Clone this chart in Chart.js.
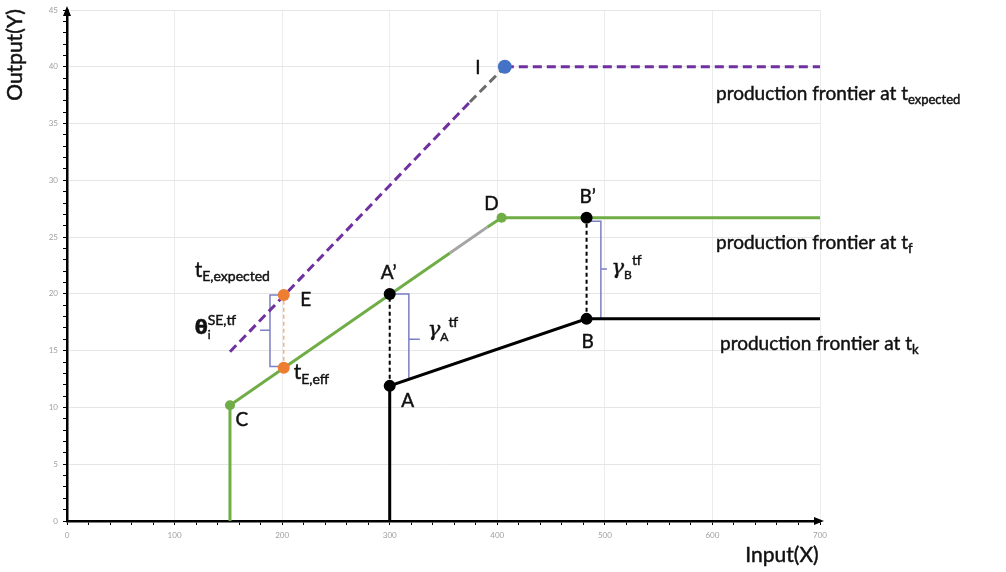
<!DOCTYPE html>
<html><head><meta charset="utf-8">
<script src="https://cdn.jsdelivr.net/npm/chart.js@4/dist/chart.umd.min.js"></script>
<style>html,body{margin:0;padding:0;background:#fff}#wrap{width:1006px;height:572px;position:relative}</style>
</head><body><div id="wrap"><canvas id="c"></canvas></div>
<script>
// ---------- data ----------
const xTickLabels = [0, 100, 200, 300, 400, 500, 600, 700];
const yTickLabels = [0, 5, 10, 15, 20, 25, 30, 35, 40, 45];

// production frontier at t_k (black)
const tkX = [300, 300, 483, 700];
const tkY = [0, 11.9, 17.8, 17.8];
// production frontier at t_f (green); the 3rd segment is drawn grey-tinted
const tfX = [151.5, 151.5, 356, 391, 404, 700];
const tfY = [0, 10.2, 23.6, 25.9, 26.7, 26.7];
const tfGraySeg = 2;
// production frontier at t_expected (purple dashed); the 2nd segment is grey-tinted
const expX = [151.5, 374.5, 407, 700];
const expY = [14.9, 36.9, 40, 40];
const expGraySeg = 1;

// labelled points
const ptNames = ['A', 'A′', 'B', 'B′', 'C', 'D', 'E', 'tEeff', 'I'];
const ptX = [300, 300, 483, 483, 151.5, 404, 201.5, 201.5, 407];
const ptY = [11.9, 20, 17.8, 26.7, 10.2, 26.7, 19.9, 13.5, 40];

// brackets (gap markers)
const thetaBrX = [200.5, 188.7, 188.7, 179.5, 188.7, 188.7, 200.5];
const thetaBrY = [19.9, 19.9, 16.8, 16.8, 16.8, 13.6, 13.6];
const gammaABrX = [300, 317.8, 317.8, 328, 317.8, 317.8];
const gammaABrY = [20, 20, 16.0, 16.0, 16.0, 12.5];
const gammaBBrX = [483, 496.3, 496.3, 502, 496.3, 496.3];
const gammaBBrY = [26.4, 26.4, 22.2, 22.2, 22.2, 17.8];

// ---------- helpers ----------
const zip = (xs, ys) => xs.map((x, i) => ({x, y: ys[i]}));
const P = n => ({x: ptX[ptNames.indexOf(n)], y: ptY[ptNames.indexOf(n)]});
const pick = names => names.map(P);

const FONT = 'Lato, "Open Sans", sans-serif';
function fontOf(p) { return (p.st || '') + ' ' + (p.w || 'normal') + ' ' + p.s + 'px ' + (p.f || FONT); }
function rich(ctx, x, y, parts, align) {
  let w = 0;
  parts.forEach(p => { ctx.font = fontOf(p); p._w = ctx.measureText(p.t).width; w += p._w + (p.gap || 0); });
  let cx = align === 'center' ? x - w / 2 : x;
  parts.forEach(p => {
    ctx.font = fontOf(p);
    ctx.fillText(p.t, cx, y + (p.dy || 0));
    ctx.strokeText(p.t, cx, y + (p.dy || 0));
    cx += p._w + (p.gap || 0);
  });
}

const labels = [
  {a: 'I', dx: -27, dy: 7, al: 'center', parts: [{t: 'I', s: 19}]},
  {a: 'D', dx: -10, dy: -8, al: 'center', parts: [{t: 'D', s: 19}]},
  {a: 'B′', dx: 1, dy: -15, al: 'center', parts: [{t: 'B’', s: 19}]},
  {a: 'A′', dx: -1, dy: -15, al: 'center', parts: [{t: 'A’', s: 19}]},
  {a: 'E', dx: 22, dy: 11, al: 'center', parts: [{t: 'E', s: 19}]},
  {a: 'E', dx: -89, dy: -18, al: 'left', parts: [{t: 't', s: 21}, {t: 'E,expected', s: 14, dy: 4}]},
  {a: 'tEeff', dx: -89, dy: -34, al: 'left', parts: [{t: 'θ', s: 19, w: 'bold', f: '"DejaVu Sans", sans-serif'}, {t: 'i', s: 12, dy: 5, gap: -3}, {t: 'SE,tf', s: 14, dy: -9}]},
  {a: 'tEeff', dx: 10, dy: 11, al: 'left', parts: [{t: 't', s: 21}, {t: 'E,eff', s: 14, dy: 5}]},
  {a: 'C', dx: 12, dy: 21, al: 'center', parts: [{t: 'C', s: 19}]},
  {a: 'A', dx: 18, dy: 21, al: 'center', parts: [{t: 'A', s: 19}]},
  {a: 'B', dx: 1, dy: 29, al: 'center', parts: [{t: 'B', s: 19}]},
  {a: 'A′', dx: 38, dy: 42, al: 'left', parts: [{t: 'γ', s: 21, st: 'italic', f: '"DejaVu Serif", serif'}, {t: 'A', s: 12, dy: 5}, {t: 'tf', s: 14, dy: -9}]},
  {a: 'B′', dx: 25, dy: 56, al: 'left', parts: [{t: 'γ', s: 21, st: 'italic', f: '"DejaVu Serif", serif'}, {t: 'B', s: 12, dy: 5}, {t: 'tf', s: 14, dy: -9}]}
];
const frontierLabels = [
  {xs: expX, ys: expY, dx: -104, dy: 33, parts: [{t: 'production frontier at t', s: 19}, {t: 'expected', s: 13, dy: 4}]},
  {xs: tfX, ys: tfY, dx: -104, dy: 31, parts: [{t: 'production frontier at t', s: 19}, {t: 'f', s: 13, dy: 4}]},
  {xs: tkX, ys: tkY, dx: -100, dy: 31, parts: [{t: 'production frontier at t', s: 19}, {t: 'k', s: 13, dy: 4}]}
];

const annot = {
  id: 'annot',
  afterDatasetsDraw(chart) {
    const {ctx, scales: {x, y}, chartArea: ca} = chart;
    ctx.save();
    ctx.fillStyle = '#111';
    ctx.strokeStyle = '#111';
    ctx.lineWidth = 0.45;
    ctx.textBaseline = 'alphabetic';
    labels.forEach(l => {
      const p = P(l.a);
      rich(ctx, x.getPixelForValue(p.x) + l.dx, y.getPixelForValue(p.y) + l.dy, l.parts, l.al);
    });
    frontierLabels.forEach(l => {
      const n = l.xs.length - 1;
      rich(ctx, x.getPixelForValue(l.xs[n]) + l.dx, y.getPixelForValue(l.ys[n]) + l.dy, l.parts, 'left');
    });
    // arrowheads on axes
    ctx.fillStyle = '#000';
    ctx.beginPath();
    ctx.moveTo(ca.left, ca.top - 4); ctx.lineTo(ca.left - 4, ca.top + 6); ctx.lineTo(ca.left + 4, ca.top + 6); ctx.closePath(); ctx.fill();
    ctx.beginPath();
    ctx.moveTo(ca.right + 4, ca.bottom); ctx.lineTo(ca.right - 6, ca.bottom - 4); ctx.lineTo(ca.right - 6, ca.bottom + 4); ctx.closePath(); ctx.fill();
    // axis titles
    ctx.fillStyle = '#111';
    ctx.font = '21px ' + FONT;
    ctx.textAlign = 'center'; ctx.textBaseline = 'middle';
    ctx.fillText('Input(X)', 782, 555); ctx.strokeText('Input(X)', 782, 555);
    ctx.translate(15, 55); ctx.rotate(-Math.PI / 2);
    ctx.fillText('Output(Y)', 0, 0); ctx.strokeText('Output(Y)', 0, 0);
    ctx.restore();
  }
};

const lineDS = (data, color, width, extra) => Object.assign({
  data, showLine: true, borderColor: color, borderWidth: width, pointRadius: 0, fill: false, tension: 0
}, extra || {});
const ptDS = (data, color, r) => ({
  data, showLine: false, pointRadius: r, pointBackgroundColor: color, pointBorderColor: color, pointBorderWidth: 0, order: 0
});

new Chart(document.getElementById('c'), {
  type: 'scatter',
  data: {
    datasets: [
      ptDS(pick(['A', 'A′', 'B', 'B′']), '#000000', 6),
      ptDS(pick(['C', 'D']), '#70ad47', 5),
      ptDS(pick(['E', 'tEeff']), '#ed7d31', 6),
      ptDS(pick(['I']), '#4472c4', 7),
      lineDS(zip(tkX, tkY), '#000000', 3, {order: 3}),
      lineDS(zip(tfX, tfY), '#70ad47', 3, {order: 3,
        segment: {borderColor: c => c.p0DataIndex === tfGraySeg ? '#a5a5a5' : '#70ad47'}}),
      lineDS(zip(expX, expY), '#7030a0', 3, {order: 3, borderDash: [9, 5],
        segment: {borderColor: c => c.p0DataIndex === expGraySeg ? '#6b6b6b' : '#7030a0'}}),
      lineDS(pick(['A', 'A′']), '#000000', 2, {order: 4, borderDash: [4, 3]}),
      lineDS(pick(['B', 'B′']), '#000000', 2, {order: 4, borderDash: [4, 3]}),
      lineDS(pick(['tEeff', 'E']), '#f4b183', 1.5, {order: 4, borderDash: [4, 3]}),
      lineDS(zip(thetaBrX, thetaBrY), '#7b7fc4', 1.5, {order: 4}),
      lineDS(zip(gammaABrX, gammaABrY), '#7b7fc4', 1.5, {order: 4}),
      lineDS(zip(gammaBBrX, gammaBBrY), '#7b7fc4', 1.5, {order: 4})
    ]
  },
  options: {
    responsive: true, maintainAspectRatio: false, animation: false,
    layout: {padding: {left: 0, top: 10, right: 186, bottom: 0}},
    plugins: {legend: {display: false}, tooltip: {enabled: false}},
    scales: {
      x: {
        type: 'linear', min: xTickLabels[0], max: xTickLabels[xTickLabels.length - 1],
        afterFit(s) { s.height = 51; },
        border: {color: '#000', width: 2.5},
        grid: {
          color: c => (c.tick && c.tick.value % 100 === 0) ? '#ececec' : 'rgba(0,0,0,0)',
          tickColor: '#000', tickLength: 4, lineWidth: 1
        },
        ticks: {
          stepSize: 20, autoSkip: false, maxRotation: 0, padding: 6,
          color: '#a0a0a0', font: {size: 8, family: FONT},
          callback: v => xTickLabels.includes(v) ? String(v) : ''
        }
      },
      y: {
        type: 'linear', min: yTickLabels[0], max: yTickLabels[yTickLabels.length - 1],
        afterFit(s) { s.width = 67; },
        border: {color: '#000', width: 2.5},
        grid: {
          color: c => (c.tick && c.tick.value % 5 === 0) ? '#e6e6e6' : 'rgba(0,0,0,0)',
          tickColor: '#000', tickLength: 4, lineWidth: 1
        },
        ticks: {
          stepSize: 1, autoSkip: false, padding: 5,
          color: '#a0a0a0', font: {size: 8, family: FONT},
          callback: v => yTickLabels.includes(v) ? String(v) : ''
        }
      }
    }
  },
  plugins: [annot]
});
</script></body></html>
